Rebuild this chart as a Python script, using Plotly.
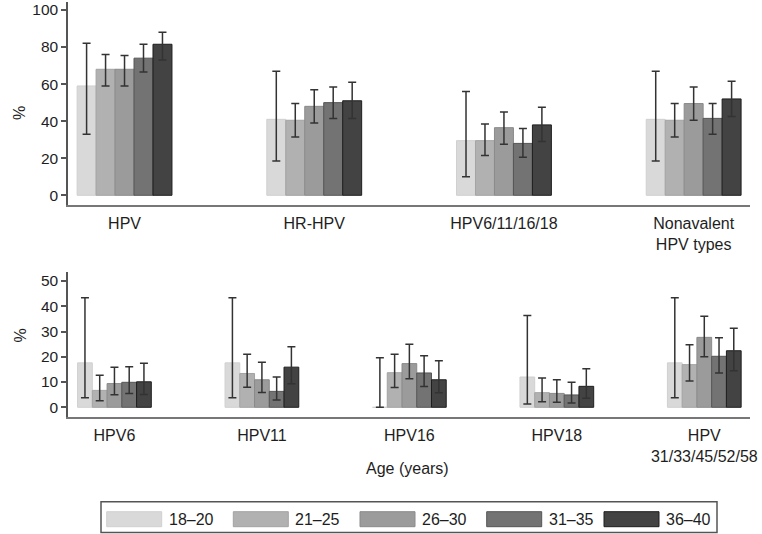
import plotly.graph_objects as go

# age groups and bar colours (light -> dark)
age_groups = ["18–20", "21–25", "26–30", "31–35", "36–40"]

top_categories = ["HPV", "HR-HPV", "HPV6/11/16/18", "Nonavalent<br>HPV types"]
bottom_categories = ["HPV6", "HPV11", "HPV16", "HPV18", "HPV<br>31/33/45/52/58"]

# prevalence (%) with 95% CI, one list per age group
top_pct = [
    [59, 41, 29.5, 41],
    [68, 40.5, 29.5, 40.5],
    [68, 48, 36.5, 49.5],
    [74, 50, 28, 41.5],
    [81.5, 51, 38, 52],
]
top_lo = [
    [33, 18.5, 10, 18.5],
    [59, 31.5, 21.5, 31.5],
    [59, 39, 27.5, 40.5],
    [66.5, 41.5, 20.5, 33],
    [73, 41.5, 29, 42.5],
]
top_hi = [
    [82, 67, 56, 67],
    [76, 49.5, 38.5, 49.5],
    [75.5, 57, 45, 58.5],
    [81.5, 58.5, 36, 49.5],
    [88, 61, 47.5, 61.5],
]

bottom_pct = [
    [17.6, 17.6, 0, 12, 17.6],
    [6.7, 13.4, 13.7, 5.8, 16.9],
    [9.4, 10.9, 17.3, 5.5, 27.7],
    [9.9, 6.3, 13.6, 4.9, 20.2],
    [10.1, 15.9, 10.9, 8.3, 22.4],
]
bottom_lo = [
    [3.8, 3.8, 0, 1.3, 3.8],
    [2.6, 7.9, 7.8, 2.2, 10.4],
    [5, 5.9, 11.3, 2, 20],
    [5.5, 2.9, 8.2, 1.7, 13.6],
    [5.1, 9.3, 5.8, 3.6, 14.5],
]
bottom_hi = [
    [43.4, 43.4, 19.6, 36.4, 43.4],
    [12.7, 21, 21, 11.6, 24.8],
    [15.9, 17.8, 25, 10.9, 36.1],
    [16.1, 12, 20.4, 9.9, 27.5],
    [17.4, 24, 18.4, 15.3, 31.3],
]

fills = ["#d9d9d9", "#b1b1b1", "#9b9b9b", "#737373", "#434343"]
edges = ["#d0d0d0", "#a3a3a3", "#8a8a8a", "#555555", "#1e1e1e"]

FONT = "Liberation Sans, Arial, sans-serif"
TXT = "#1e1e1e"
W, H = 762, 534
L, R, T, B = 68, 12, 2, 117
PW, PH = W - L - R, H - T - B


def px_x(x):
    return (x - L) / PW


def px_y(y):
    return (H - B - y) / PH


fig = go.Figure()

for i, age in enumerate(age_groups):
    for cats, pct, lo, hi, xa, ya in [
        (top_categories, top_pct, top_lo, top_hi, "x", "y"),
        (bottom_categories, bottom_pct, bottom_lo, bottom_hi, "x2", "y2"),
    ]:
        v = pct[i]
        fig.add_trace(go.Bar(
            x=cats, y=v, name=age, xaxis=xa, yaxis=ya, showlegend=False,
            marker=dict(color=fills[i], line=dict(color=edges[i], width=1)),
            error_y=dict(type="data", symmetric=False,
                         array=[h - a for h, a in zip(hi[i], v)],
                         arrayminus=[a - l for a, l in zip(v, lo[i])],
                         color="#333333", thickness=1.5, width=4),
        ))

yaxis_common = dict(showline=True, linecolor="#555555", linewidth=1.5,
                    ticks="outside", ticklen=5, tickwidth=1.5, tickcolor="#555555",
                    showgrid=False, zeroline=False,
                    tickfont=dict(family=FONT, size=15.5, color=TXT))
xaxis_common = dict(showline=True, linecolor="#777777", linewidth=2,
                    ticks="", showgrid=False, zeroline=False, ticklabelstandoff=3,
                    tickfont=dict(family=FONT, size=16, color=TXT))

fig.update_layout(
    width=W, height=H,
    margin=dict(l=L, r=R, t=T, b=B),
    paper_bgcolor="white", plot_bgcolor="white",
    barmode="group", bargap=0.5, bargroupgap=0,
    font=dict(family=FONT, color=TXT),
    xaxis=dict(xaxis_common, domain=[0, 1], anchor="y", range=[-0.298, 3.297]),
    yaxis=dict(yaxis_common, domain=[px_y(205), 1], anchor="x",
               range=[-5.23, 104.3], tickvals=[0, 20, 40, 60, 80, 100]),
    xaxis2=dict(xaxis_common, domain=[0, 1], anchor="y2", range=[-0.315, 4.31]),
    yaxis2=dict(yaxis_common, domain=[0, px_y(271.7)], anchor="x2",
                range=[-3.84, 53.7], tickvals=[0, 10, 20, 30, 40, 50]),
)

# y-axis titles and x title
for yc in (103.5, 344):
    fig.add_annotation(text="%", x=px_x(9), y=px_y(yc), xref="paper", yref="paper",
                       showarrow=False, textangle=-90,
                       font=dict(family=FONT, size=16, color=TXT))
fig.add_annotation(text="Age (years)", x=px_x(407), y=px_y(479), xref="paper", yref="paper",
                   showarrow=False, font=dict(family=FONT, size=16, color=TXT))

# legend box drawn as shapes
fig.add_shape(type="rect", xref="paper", yref="paper",
              x0=px_x(101), x1=px_x(717), y0=px_y(501.7), y1=px_y(532.5),
              line=dict(color="#555555", width=1.5), fillcolor="white")
sw_x = [106.7, 233.3, 360, 486.7, 604]
for i, age in enumerate(age_groups):
    fig.add_shape(type="rect", xref="paper", yref="paper",
                  x0=px_x(sw_x[i]), x1=px_x(sw_x[i] + 55), y0=px_y(511.7), y1=px_y(526.7),
                  line=dict(color=edges[i], width=1), fillcolor=fills[i])
    fig.add_annotation(text=age, x=px_x(sw_x[i] + 60), y=px_y(519), xref="paper", yref="paper",
                       xanchor="left", yanchor="middle", showarrow=False,
                       font=dict(family=FONT, size=16, color=TXT))

fig.write_html("out.html", config={"displayModeBar": False},
               post_script="document.body.style.margin='0px';")
